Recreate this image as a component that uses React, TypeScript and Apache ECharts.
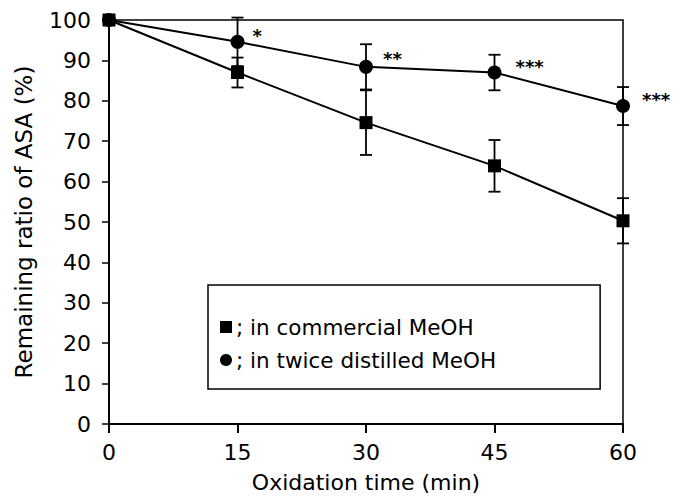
import React, { useEffect, useRef } from "react";
import * as echarts from "echarts";

// Oxidation time points (min)
const times = [0, 15, 30, 45, 60];
const xTicks = [0, 15, 30, 45, 60];

// Remaining ratio of ASA (%) — mean and error (±)
const commercialMean = [100, 87, 74.6, 63.9, 50.3];
const commercialErr = [0, 3.7, 8, 6.4, 5.6];
const distilledMean = [100, 94.6, 88.4, 87, 78.7];
const distilledErr = [0, 6, 5.6, 4.4, 4.7];

// Significance marks next to the distilled-MeOH points
const significance = ["", "*", "**", "***", "***"];

const commercialName = "commercial";
const distilledName = "distilled";
const legendText: Record<string, string> = {
  [commercialName]: "; in commercial MeOH",
  [distilledName]: "; in twice distilled MeOH",
};

const FONT = "'DejaVu Sans', 'Noto Sans', sans-serif";

function errorBarSeries(mean: number[], err: number[]) {
  const data = times.map((t, i) => [t, mean[i] - err[i], mean[i] + err[i]]);
  return {
    type: "custom",
    silent: true,
    z: 1,
    data,
    renderItem: (_params: any, api: any) => {
      const x = api.value(0);
      const lo = api.coord([x, api.value(1)]);
      const hi = api.coord([x, api.value(2)]);
      const cap = 6;
      const style = { stroke: "#000", lineWidth: 1.8 };
      return {
        type: "group",
        children: [
          { type: "line", shape: { x1: lo[0], y1: lo[1], x2: hi[0], y2: hi[1] }, style },
          { type: "line", shape: { x1: hi[0] - cap, y1: hi[1], x2: hi[0] + cap, y2: hi[1] }, style },
          { type: "line", shape: { x1: lo[0] - cap, y1: lo[1], x2: lo[0] + cap, y2: lo[1] }, style },
        ],
      };
    },
  };
}

// Per-point label placement for the significance marks
const starOffsets: [number, number][] = [
  [0, 0],
  [3, -6],
  [5, -8],
  [9, -6],
  [7, -7],
];

export default function App() {
  const ref = useRef<HTMLDivElement>(null);

  useEffect(() => {
    if (!ref.current) return;
    const chart = echarts.init(ref.current, null, { renderer: "svg" });

    const distilledData = times.map((t, i) => ({
      value: [t, distilledMean[i]],
      label: {
        show: significance[i] !== "",
        formatter: significance[i],
        position: "right",
        offset: starOffsets[i],
        fontSize: 18,
        fontWeight: "bold",
        color: "#000",
        fontFamily: FONT,
      },
    }));

    chart.setOption({
      animation: false,
      backgroundColor: "#fff",
      textStyle: { fontFamily: FONT, color: "#000" },
      grid: {
        left: 109,
        right: 57,
        top: 20,
        bottom: 80,
        show: true,
        borderColor: "#000",
        borderWidth: 1.5,
      },
      legend: {
        data: [
          { name: commercialName, icon: "rect" },
          { name: distilledName, icon: "circle" },
        ],
        orient: "vertical",
        left: 208,
        top: 285,
        padding: [31, 104, 18, 12],
        itemWidth: 12,
        itemHeight: 12,
        itemGap: 11,
        borderColor: "#000",
        borderWidth: 1.5,
        formatter: (name: string) => legendText[name],
        textStyle: { fontSize: 21.5, color: "#000", fontFamily: FONT, padding: [0, 0, 0, -1] },
      },
      xAxis: {
        type: "value",
        min: 0,
        max: 60,
        interval: 15,
        name: "Oxidation time (min)",
        nameLocation: "middle",
        nameGap: 47,
        nameTextStyle: { fontSize: 22, color: "#000", fontFamily: FONT },
        splitLine: { show: false },
        axisLine: { lineStyle: { color: "#000", width: 2 } },
        axisTick: { length: 9, lineStyle: { color: "#000", width: 2 } },
        axisLabel: {
          fontSize: 22,
          color: "#000",
          margin: 17,
          formatter: (v: number) => (xTicks.includes(v) ? String(v) : ""),
        },
      },
      yAxis: {
        type: "value",
        min: 0,
        max: 100,
        interval: 10,
        name: "Remaining ratio of ASA (%)",
        nameLocation: "middle",
        nameGap: 74,
        nameTextStyle: { fontSize: 23, color: "#000", fontFamily: FONT },
        splitLine: { show: false },
        axisLine: { lineStyle: { color: "#000", width: 2 } },
        axisTick: { length: 7, lineStyle: { color: "#000", width: 1.5 } },
        axisLabel: { fontSize: 22, color: "#000", margin: 18 },
      },
      series: [
        errorBarSeries(commercialMean, commercialErr),
        errorBarSeries(distilledMean, distilledErr),
        {
          name: commercialName,
          type: "line",
          z: 3,
          data: times.map((t, i) => [t, commercialMean[i]]),
          symbol: "rect",
          symbolSize: 13,
          itemStyle: { color: "#000" },
          lineStyle: { color: "#000", width: 2 },
        },
        {
          name: distilledName,
          type: "line",
          z: 3,
          data: distilledData,
          symbol: "circle",
          symbolSize: 14,
          itemStyle: { color: "#000" },
          lineStyle: { color: "#000", width: 2 },
        },
      ],
    });

    return () => chart.dispose();
  }, []);

  return <div ref={ref} style={{ width: 680, height: 504, margin: -8 }} />;
}
